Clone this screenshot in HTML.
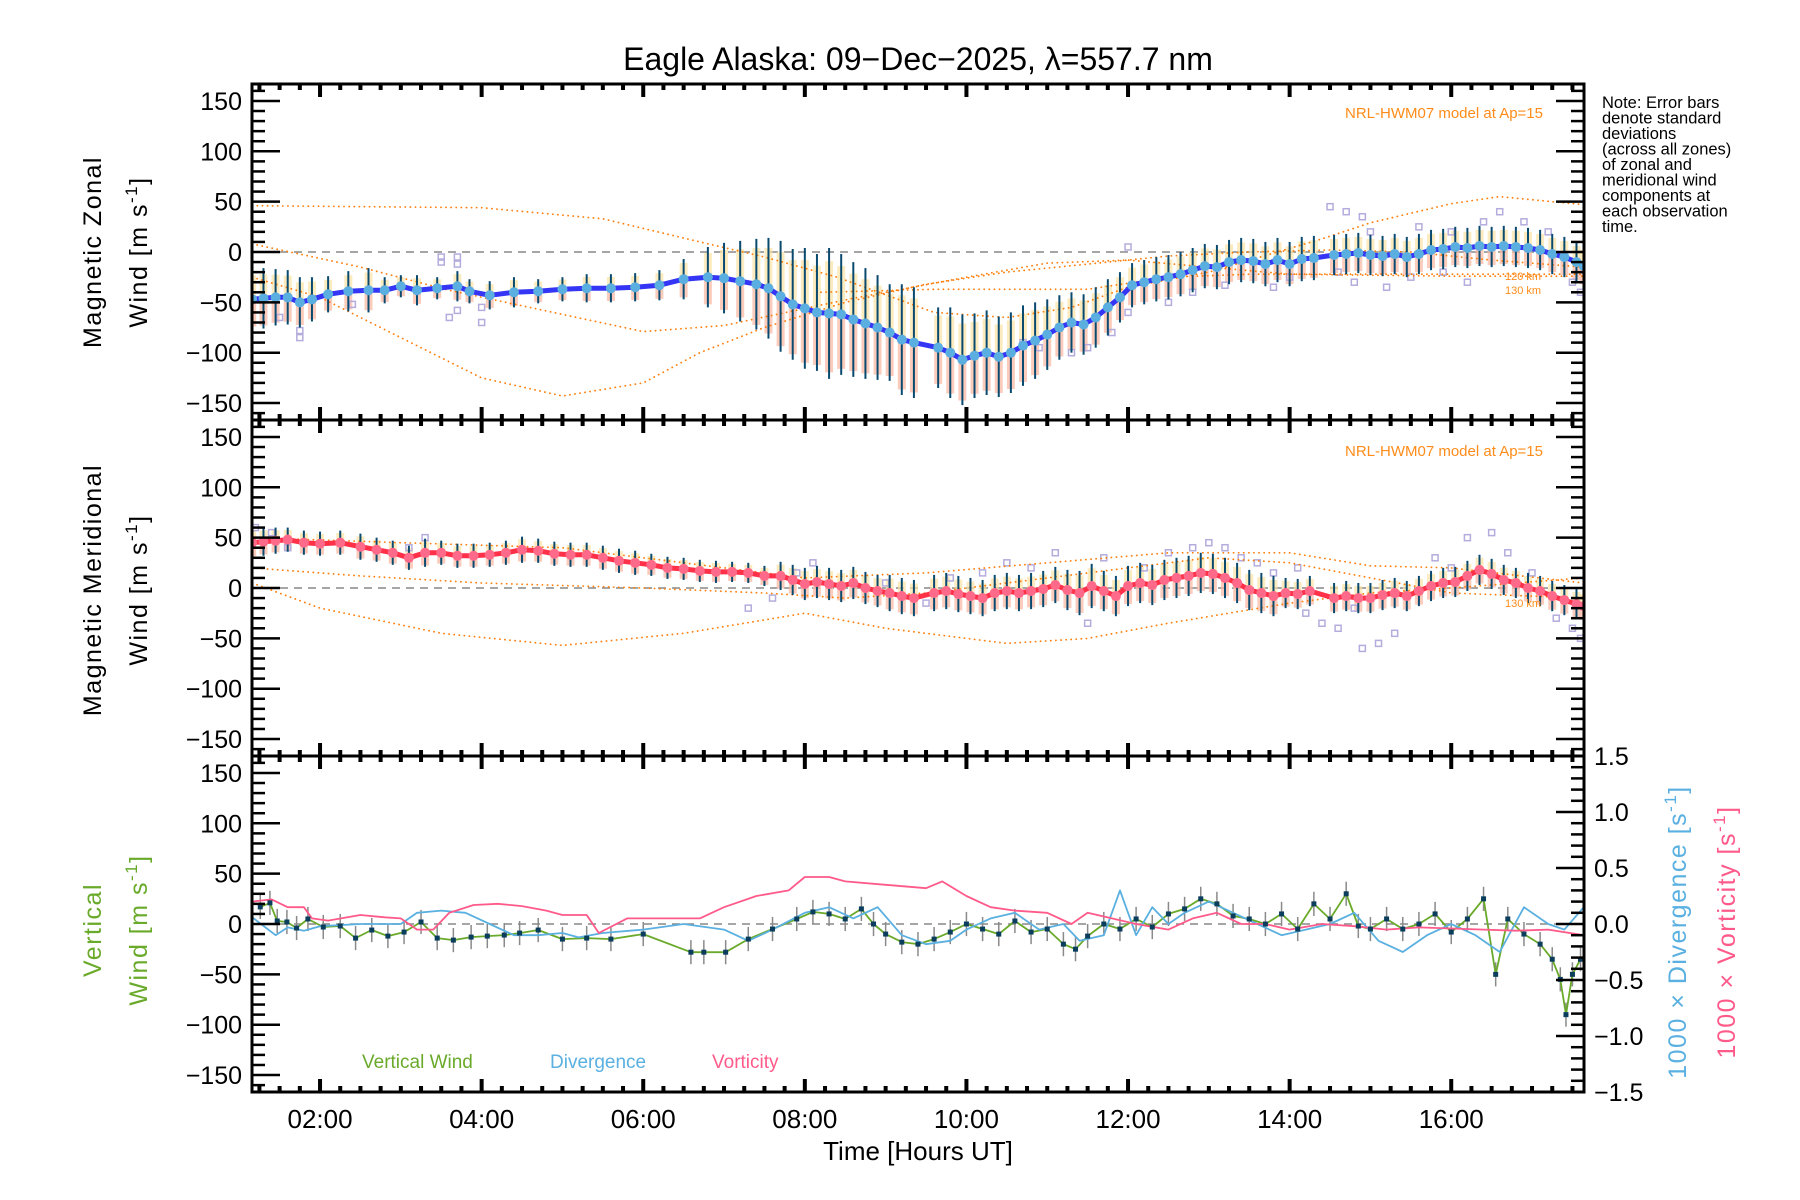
<!DOCTYPE html>
<html><head><meta charset="utf-8"><style>
html,body{margin:0;padding:0;background:#fff;}
svg{display:block;font-family:"Liberation Sans",sans-serif;}
</style></head><body>
<svg id="chart" xmlns="http://www.w3.org/2000/svg" width="1800" height="1200" viewBox="0 0 1800 1200">
<rect width="1800" height="1200" fill="#fff"/>
<text x="918" y="70" font-size="32" text-anchor="middle">Eagle Alaska: 09−Dec−2025, λ=557.7 nm</text>
<g id="layer"></g>
<g font-size="16.5" fill="#000">
<text x="1602" y="108">Note: Error bars</text>
<text x="1602" y="123.5">denote standard</text>
<text x="1602" y="139">deviations</text>
<text x="1602" y="154.5">(across all zones)</text>
<text x="1602" y="170">of zonal and</text>
<text x="1602" y="185.5">meridional wind</text>
<text x="1602" y="201">components at</text>
<text x="1602" y="216.5">each observation</text>
<text x="1602" y="232">time.</text>
</g>
<text x="1543" y="118" font-size="15" fill="#ff8c1a" text-anchor="end">NRL-HWM07 model at Ap=15</text>
<text x="1543" y="456" font-size="15" fill="#ff8c1a" text-anchor="end">NRL-HWM07 model at Ap=15</text>
<text x="1505" y="280" font-size="11" fill="#ff8c1a">120 km</text>
<text x="1505" y="294" font-size="11" fill="#ff8c1a">130 km</text>
<text x="1505" y="607" font-size="11" fill="#ff8c1a">130 km</text>
<g font-size="25">
<text transform="translate(101,252) rotate(-90)" text-anchor="middle" letter-spacing="1.5">Magnetic Zonal</text>
<text transform="translate(147,252) rotate(-90)" text-anchor="middle" letter-spacing="1.5">Wind [m s<tspan dy="-10" font-size="17">-1</tspan><tspan dy="10">]</tspan></text>
</g>
<g font-size="25">
<text transform="translate(101,590) rotate(-90)" text-anchor="middle" letter-spacing="1.5">Magnetic Meridional</text>
<text transform="translate(147,590) rotate(-90)" text-anchor="middle" letter-spacing="1.5">Wind [m s<tspan dy="-10" font-size="17">-1</tspan><tspan dy="10">]</tspan></text>
</g>
<g font-size="25" fill="#6aaa2a">
<text transform="translate(101,930) rotate(-90)" text-anchor="middle" letter-spacing="1.5">Vertical</text>
<text transform="translate(147,930) rotate(-90)" text-anchor="middle" letter-spacing="1.5">Wind [m s<tspan dy="-10" font-size="17">-1</tspan><tspan dy="10">]</tspan></text>
</g>
<text transform="translate(1686,932) rotate(-90)" text-anchor="middle" font-size="25" fill="#5ab0e0" letter-spacing="1.5">1000 × Divergence [s<tspan dy="-10" font-size="17">-1</tspan><tspan dy="10">]</tspan></text>
<text transform="translate(1735,932) rotate(-90)" text-anchor="middle" font-size="25" fill="#ff5a8a" letter-spacing="1.5">1000 × Vorticity [s<tspan dy="-10" font-size="17">-1</tspan><tspan dy="10">]</tspan></text>
<text x="362" y="1068" font-size="19" fill="#6aaa2a">Vertical Wind</text>
<text x="550" y="1068" font-size="19" fill="#5ab0e0">Divergence</text>
<text x="712" y="1068" font-size="19" fill="#ff5a8a">Vorticity</text>
<text x="918" y="1172" font-size="26" text-anchor="middle" transform="translate(0,-12)">Time [Hours UT]</text>
</svg>
<script>
// ---- data ----
const zonalT=[1.16,1.3,1.45,1.6,1.75,1.9,2.1,2.35,2.6,2.8,3.0,3.2,3.45,3.7,3.85,4.1,4.4,4.7,5.0,5.3,5.6,5.9,6.2,6.5,6.8,7.0,7.2,7.4,7.55,7.7,7.85,8.0,8.15,8.3,8.45,8.6,8.75,8.9,9.05,9.2,9.35,9.65,9.8,9.95,10.1,10.25,10.4,10.55,10.7,10.85,11.0,11.15,11.3,11.45,11.6,11.75,11.9,12.05,12.2,12.35,12.5,12.65,12.8,12.95,13.1,13.25,13.4,13.55,13.7,13.85,14.0,14.15,14.3,14.55,14.7,14.85,15.0,15.15,15.3,15.45,15.6,15.75,15.9,16.05,16.2,16.35,16.5,16.65,16.8,16.95,17.1,17.25,17.4,17.55,17.64];
const zonalV=[-47,-46,-45,-45,-50,-47,-42,-39,-38,-38,-34,-38,-36,-34,-39,-43,-40,-39,-37,-36,-36,-35,-33,-27,-25,-26,-29,-32,-36,-44,-52,-56,-60,-61,-62,-67,-71,-75,-80,-87,-90,-95,-100,-107,-103,-100,-104,-100,-93,-88,-82,-75,-70,-72,-65,-55,-45,-33,-30,-27,-25,-22,-18,-14,-15,-10,-8,-9,-12,-8,-12,-7,-6,-3,-2,-1,-3,-4,-2,-5,-2,2,3,5,4,6,5,6,5,4,2,-2,-5,-10,-14];
const zonalE=[30,30,28,27,25,22,18,20,22,13,11,15,11,15,12,14,15,12,12,14,14,14,15,20,30,35,40,45,50,55,55,60,58,65,60,57,55,52,48,55,55,40,45,45,42,42,40,40,40,38,35,32,30,30,30,28,25,22,22,22,22,22,22,22,22,22,22,22,22,22,22,22,22,20,20,20,20,20,20,20,20,20,20,20,20,20,20,20,20,20,20,20,20,20,20];
const meridT=[1.16,1.3,1.45,1.6,1.8,2.0,2.25,2.5,2.7,2.9,3.1,3.3,3.5,3.7,3.9,4.1,4.3,4.5,4.7,4.9,5.1,5.3,5.5,5.7,5.9,6.1,6.3,6.5,6.7,6.9,7.1,7.3,7.5,7.7,7.85,8.0,8.15,8.3,8.45,8.6,8.75,8.9,9.05,9.2,9.35,9.6,9.75,9.9,10.05,10.2,10.35,10.5,10.65,10.8,10.95,11.1,11.25,11.4,11.55,11.7,11.85,12.0,12.15,12.3,12.45,12.6,12.75,12.9,13.05,13.2,13.35,13.5,13.65,13.8,13.95,14.1,14.25,14.55,14.7,14.85,15.0,15.15,15.3,15.45,15.6,15.75,15.9,16.05,16.2,16.35,16.5,16.65,16.8,16.95,17.1,17.25,17.4,17.55,17.64];
const meridV=[45,46,47,48,45,44,45,41,38,35,30,35,35,32,32,33,35,38,37,34,33,33,30,27,25,23,20,19,17,16,16,15,12,12,8,4,6,4,2,5,0,-3,-5,-8,-10,-5,-3,-6,-8,-10,-5,-3,-5,-3,-1,3,-2,-5,2,-3,-8,2,5,3,8,10,12,15,14,10,5,-2,-5,-8,-5,-6,-3,-10,-8,-10,-10,-7,-5,-8,-3,2,5,6,12,18,14,8,5,0,-3,-8,-12,-16,-18];
const meridE=[15,14,13,12,12,12,12,13,12,12,12,14,12,12,12,12,12,13,12,12,12,12,12,12,12,11,11,11,11,11,10,10,10,14,15,16,16,16,16,16,16,16,18,18,18,18,18,18,18,18,18,18,18,18,18,18,20,22,22,20,20,20,20,20,20,20,20,20,20,20,20,20,20,20,15,15,15,15,15,15,15,15,15,15,15,15,15,15,15,15,15,15,15,15,15,15,15,15,15];
const scatter1T=[1.5,1.75,1.75,2.4,3.5,3.5,3.7,3.7,3.7,3.6,4.0,4.0,12.0,12.0,11.8,11.5,11.3,12.5,13.8,14.5,14.7,14.9,14.6,14.8,15.2,15.5,15.9,16.2,16.4,16.6,16.9,17.2,17.5,17.6,13.2,12.8,15.0,15.6,16.0,14.0,10.7,10.9];
const scatter1V=[-65,-78,-85,-52,-5,-10,-5,-12,-58,-65,-55,-70,5,-60,-80,-95,-100,-50,-35,45,40,35,-20,-30,-35,-25,-20,-30,30,40,30,20,-30,-40,-33,-40,20,25,20,-25,-90,-95];
const scatter2T=[1.2,1.4,1.6,3.1,3.3,7.3,7.6,7.9,8.1,9.0,9.5,10.5,10.8,11.1,11.5,11.7,12.5,12.8,13.0,13.2,13.4,13.8,14.1,14.2,14.4,14.6,14.9,15.1,15.3,14.8,15.8,16.0,16.2,16.5,16.7,17.0,17.3,17.5,17.6,13.6,12.2,10.2,9.8];
const scatter2V=[60,55,40,40,50,-20,-10,15,25,5,-15,25,20,35,-35,30,35,40,45,40,30,15,20,-25,-35,-40,-60,-55,-45,-20,30,20,50,55,35,15,-30,-40,-50,25,20,15,10];
const modelZ1T=[1.16,4,5.5,6.7,7.5,8.4,9.6,10.5,11.3,12,13,14.4,15,16,16.6,17.64];
const modelZ1V=[46,44,33,10,-5,-25,-60,-65,-55,-35,-20,13,29,48,55,47];
const modelZ2T=[1.16,2.5,3.6,5,6,7,8.6,10,11,12,13,14,16,17.64];
const modelZ2V=[8,-15,-38,-62,-79,-73,-46,-25,-11,-8,-15,-22,-24,-24];
const modelZ3T=[1.16,2,3,4,5,6,6.7,7.5,8.5,9.5,10.5,11.5,12.5,13.5,14.5,15.5,16.5,17.64];
const modelZ3V=[-25,-45,-85,-125,-143,-130,-100,-75,-50,-32,-20,-12,-4,0,2,0,-8,-15];
const modelZ4T=[8.2,9.6,11.5,12.5,13.5,17.64];
const modelZ4V=[-40,-37,-37,-25,-22,-22];
const modelM1T=[1.16,3,5,6.5,8,9.5,11,12.5,14,15,16,17.64];
const modelM1V=[50,45,40,25,10,15,25,35,35,22,20,5];
const modelM2T=[1.16,2,3.5,5,6.5,8,9,10.5,11.5,12.5,14,15,16,17.64];
const modelM2V=[5,-20,-45,-57,-45,-25,-40,-55,-50,-35,-15,-5,0,10];
const modelM3T=[1.16,2.5,4,6,7.5,8.5,9.5,10.5,12,13,14,15,16,17.64];
const modelM3V=[20,12,5,0,-5,-10,-5,5,20,30,25,10,-5,-10];
const vertT=[1.26,1.38,1.47,1.59,1.71,1.85,2.04,2.25,2.44,2.64,2.84,3.04,3.25,3.45,3.65,3.87,4.07,4.28,4.47,4.7,5.0,5.3,5.6,6.0,6.59,6.75,7.02,7.3,7.6,7.9,8.1,8.3,8.5,8.7,8.85,9.0,9.2,9.4,9.6,9.8,10.0,10.2,10.4,10.6,10.8,11.0,11.2,11.35,11.5,11.7,11.9,12.1,12.3,12.5,12.7,12.9,13.1,13.3,13.5,13.7,13.9,14.1,14.3,14.5,14.7,14.85,15.0,15.2,15.4,15.6,15.8,16.0,16.2,16.4,16.55,16.7,16.9,17.1,17.25,17.35,17.42,17.5,17.6];
const vertV=[17,21,3,2,-4,5,-3,-2,-14,-6,-12,-8,2,-14,-16,-13,-12,-11,-9,-6,-15,-14,-15,-10,-28,-28,-28,-15,-5,5,12,10,5,15,0,-10,-18,-20,-15,-8,0,-5,-10,3,-8,-5,-20,-25,-12,0,-5,5,-3,10,15,25,20,8,5,0,10,-5,20,5,30,-2,-5,5,-5,0,10,-8,5,25,-50,5,-10,-20,-35,-55,-90,-50,-35];
const divT=[1.16,1.45,1.6,1.8,2.0,2.5,3.0,3.2,3.5,3.8,4.1,4.4,4.7,5.0,5.2,5.5,6.0,6.5,7.0,7.3,7.6,8.0,8.3,8.6,8.9,9.2,9.5,9.8,10.0,10.3,10.6,10.9,11.2,11.4,11.7,11.9,12.1,12.3,12.5,12.7,13.0,13.3,13.6,13.9,14.2,14.5,14.8,15.1,15.4,15.7,16.0,16.3,16.6,16.9,17.2,17.4,17.64];
const divV=[0.06,-0.1,-0.03,-0.06,-0.02,0.0,0.0,0.1,0.12,0.1,0.0,-0.1,-0.1,-0.08,-0.12,-0.08,-0.05,0.0,-0.05,-0.15,-0.05,0.1,0.15,0.05,0.15,-0.1,-0.18,-0.15,-0.05,0.05,0.1,-0.05,0.0,-0.15,-0.1,0.3,-0.1,0.15,0.0,0.1,0.2,0.1,0.0,-0.1,-0.05,0.0,0.1,-0.15,-0.25,-0.1,0.0,-0.1,-0.25,0.15,0.0,-0.05,0.15];
const vortT=[1.16,1.4,1.6,1.8,1.9,2.1,2.5,2.8,3.0,3.2,3.4,3.6,3.9,4.2,4.5,4.8,5.0,5.3,5.45,5.8,6.2,6.7,7.0,7.4,7.8,8.0,8.3,8.5,9.0,9.5,9.7,10.0,10.3,10.6,11.0,11.3,11.5,11.8,12.1,12.5,12.8,13.1,13.4,13.7,14.0,14.4,14.8,15.2,15.6,16.0,16.4,16.8,17.2,17.64];
const vortV=[0.2,0.22,0.15,0.15,0.05,0.03,0.08,0.06,0.05,-0.05,-0.05,0.1,0.17,0.18,0.16,0.12,0.08,0.08,-0.08,0.05,0.05,0.05,0.15,0.25,0.3,0.42,0.42,0.38,0.35,0.32,0.38,0.25,0.15,0.12,0.1,0.0,0.1,0.05,0.0,-0.05,0.05,0.1,0.0,0.0,-0.05,0.0,-0.02,-0.05,-0.03,-0.04,-0.05,-0.06,-0.05,-0.1];
const yTicks=[150,100,50,0,-50,-100,-150];
const yTickLabels=["150","100","50","0","−50","−100","−150"];
const rTicks=[1.5,1.0,0.5,0.0,-0.5,-1.0,-1.5];
const rTickLabels=["1.5","1.0","0.5","0.0","−0.5","−1.0","−1.5"];
const xTicks=[2,4,6,8,10,12,14,16];
const xTickLabels=["02:00","04:00","06:00","08:00","10:00","12:00","14:00","16:00"];

// ---- axes ----
const L=252,R=1584,T0=1.158,PX=80.8;
const tops=[84,420,756];
function xs(t){return L+(t-T0)*PX;}
function ys(v,p){return tops[p]+168-v*1.007;}
function yr(r,p){return tops[p]+168-r*112;}
const NS="http://www.w3.org/2000/svg";
const layer=document.getElementById('layer');
function mk(tag,attrs,parent){const e=document.createElementNS(NS,tag);for(const k in attrs)e.setAttribute(k,attrs[k]);(parent||layer).appendChild(e);return e;}
function line(x1,y1,x2,y2,st,w,parent,dash){const e=mk('line',{x1:x1,y1:y1,x2:x2,y2:y2,stroke:st,'stroke-width':w},parent);if(dash)e.setAttribute('stroke-dasharray',dash);return e;}
function poly(T,V,p,st,w,dash,right){let pts=T.map((t,i)=>xs(t).toFixed(1)+','+(right?yr(V[i],p):ys(V[i],p)).toFixed(1)).join(' ');const e=mk('polyline',{points:pts,fill:'none',stroke:st,'stroke-width':w,'stroke-linejoin':'round'});if(dash){e.setAttribute('stroke-dasharray',dash);e.setAttribute('stroke-linecap','round');}return e;}

const clip=mk('clipPath',{id:'c0'});mk('rect',{x:L,y:84,width:R-L,height:1008},clip);

function panelData(p,T,V,E,sT,sV,models,meanCol,dotCol,nm){
  const g=mk('g',{'clip-path':'url(#c0)'});
  
  
  line(L,ys(0,p),R,ys(0,p),'#888',1.5,g,'8,6');
  T.forEach((t,i)=>{
    const x=xs(t);
    const r1=mk('rect',{x:x-4,y:ys(V[i],p),width:8,height:E[i]*1.007*0.9,fill:'#f9b9a6',opacity:0.75},g);
    
    
    const r2=mk('rect',{x:x-4,y:ys(V[i]+E[i]*0.8,p),width:8,height:E[i]*1.007*0.8,fill:'#fbe2a4',opacity:0.7},g);
    
    
  });
  sT.forEach((t,i)=>{
    const s=mk('rect',{x:xs(t)-3,y:ys(sV[i],p)-3,width:6,height:6,fill:'none',stroke:'#b4acdc','stroke-width':1.5},g);
    
    
  });
  models.forEach(([mt,mv],k)=>{
    const m=poly(mt,mv,p,'#ff7f0e',1.8,'0.1,5');
    g.appendChild(m);
    
    
  });
  T.forEach((t,i)=>{
    const b=line(xs(t),ys(V[i]+E[i],p),xs(t),ys(V[i]-E[i],p),'#0b4a6f',2,g);
    
    
  });
  const ml=poly(T,V,p,meanCol,5);g.appendChild(ml);
  
  
  T.forEach((t,i)=>{
    const c=mk('circle',{cx:xs(t),cy:ys(V[i],p),r:5,fill:dotCol},g);
    
    
  });
}
panelData(0,zonalT,zonalV,zonalE,scatter1T,scatter1V,[[modelZ1T,modelZ1V],[modelZ2T,modelZ2V],[modelZ3T,modelZ3V],[modelZ4T,modelZ4V]],'#3535f5','#5aaee0','zonal');
panelData(1,meridT,meridV,meridE,scatter2T,scatter2V,[[modelM1T,modelM1V],[modelM2T,modelM2V],[modelM3T,modelM3V]],'#ff3048','#ff6a8a','meridional');

const g3=mk('g',{'clip-path':'url(#c0)'});


line(L,ys(0,2),R,ys(0,2),'#888',1.5,g3,'8,6');
vertT.forEach((t,i)=>{
  const b=line(xs(t),ys(vertV[i]+12,2),xs(t),ys(vertV[i]-12,2),'#8a8a8a',1.5,g3);
  
  
});
const vl=poly(vertT,vertV,2,'#6aaa2a',1.8);g3.appendChild(vl);


const dl=poly(divT,divV,2,'#5ab0e0',1.8,null,true);g3.appendChild(dl);


const vo=poly(vortT,vortV,2,'#ff5a8a',1.8,null,true);g3.appendChild(vo);


vertT.forEach((t,i)=>{
  const s=mk('rect',{x:xs(t)-2.5,y:ys(vertV[i],2)-2.5,width:5,height:5,fill:'#0b3d5c'},g3);
  
  
});

const ax=mk('g',{});


for(let p=0;p<3;p++){
  const top=tops[p],bot=top+336;
  const fr=mk('rect',{x:L,y:top,width:R-L,height:336,fill:'none',stroke:'#000','stroke-width':3},ax);
  
  
  for(let v=-160;v<=160;v+=10){
    const y=ys(v,p),mj=(v%50===0);
    line(L,y,L+(mj?28:13),y,'#000',2.5,ax);
    if(p<2)line(R,y,R-(mj?28:13),y,'#000',2.5,ax);
  }
  yTicks.forEach((v,i)=>{
    const tx=mk('text',{x:242,y:ys(v,p)+9,'font-size':25,'text-anchor':'end'},ax);
    tx.textContent=yTickLabels[i];
    
    
  });
  for(let t=1.25;t<17.64;t+=0.25){
    const mj=Math.abs(t-Math.round(t))<0.01&&Math.round(t)%2===0;
    const len=mj?13:6;
    line(xs(t),top,xs(t),top+len,'#000',4,ax);
    line(xs(t),bot,xs(t),bot-len,'#000',4,ax);
  }
}
for(let r=-1.5;r<=1.501;r+=0.1){
  const y=yr(r,2),mj=Math.abs(r*2-Math.round(r*2))<0.01;
  line(R,y,R-(mj?28:13),y,'#000',2.5,ax);
}
rTicks.forEach((r,i)=>{
  const tx=mk('text',{x:1594,y:yr(r,2)+9,'font-size':25},ax);
  tx.textContent=rTickLabels[i];
  
  
});
xTicks.forEach((t,i)=>{
  const tx=mk('text',{x:xs(t),y:1128,'font-size':26,'text-anchor':'middle'},ax);
  tx.textContent=xTickLabels[i];
  
  
});
</script>
</body></html>
